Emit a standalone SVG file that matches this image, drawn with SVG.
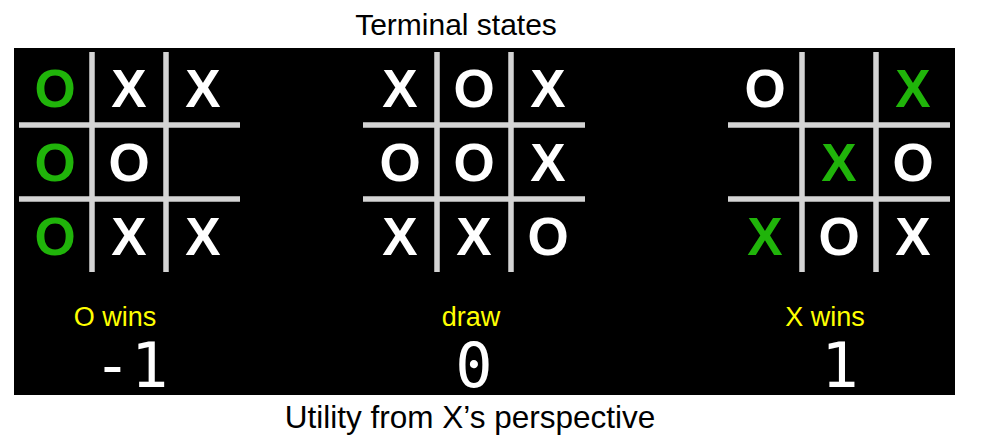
<svg xmlns="http://www.w3.org/2000/svg" width="987" height="442" viewBox="0 0 987 442">
<style>
.cap{font-family:"Liberation Sans",Arial,sans-serif;font-size:30px;fill:#000;text-anchor:middle}
.grid line{stroke:#d4d4d4;stroke-width:5.5}
.m{font-family:"Liberation Sans",Arial,sans-serif;font-weight:bold;font-size:53px;text-anchor:middle;fill:#fff}
.g{fill:#20b40a}
.lbl{font-family:"Liberation Sans",Arial,sans-serif;font-size:27px;fill:#ffff00;text-anchor:middle}
.num{font-family:"DejaVu Sans Mono",monospace;font-size:62px;fill:#fff;text-anchor:middle}
</style>
<rect width="987" height="442" fill="#fff"/>
<text class="cap" x="456" y="35">Terminal states</text>
<rect x="14" y="48" width="941" height="347" fill="#000"/>

<g id="board-o-wins">
  <g class="grid">
    <line x1="92" y1="52" x2="92" y2="272"/>
    <line x1="166" y1="52" x2="166" y2="272"/>
    <line x1="19" y1="125" x2="240" y2="125"/>
    <line x1="19" y1="199" x2="240" y2="199"/>
  </g>
  <text class="m g" x="55" y="107">O</text>
  <text class="m" x="129" y="107">X</text>
  <text class="m" x="203" y="107">X</text>
  <text class="m g" x="55" y="181">O</text>
  <text class="m" x="129" y="181">O</text>
  <text class="m g" x="55" y="255">O</text>
  <text class="m" x="129" y="255">X</text>
  <text class="m" x="203" y="255">X</text>
  <text class="lbl" x="115" y="326">O wins</text>
  <text class="num" x="131" y="387">-1</text>
</g>

<g id="board-draw">
  <g class="grid">
    <line x1="437" y1="52" x2="437" y2="272"/>
    <line x1="511" y1="52" x2="511" y2="272"/>
    <line x1="363" y1="125" x2="585" y2="125"/>
    <line x1="363" y1="199" x2="585" y2="199"/>
  </g>
  <text class="m" x="400" y="107">X</text>
  <text class="m" x="474" y="107">O</text>
  <text class="m" x="548" y="107">X</text>
  <text class="m" x="400" y="181">O</text>
  <text class="m" x="474" y="181">O</text>
  <text class="m" x="548" y="181">X</text>
  <text class="m" x="400" y="255">X</text>
  <text class="m" x="474" y="255">X</text>
  <text class="m" x="548" y="255">O</text>
  <text class="lbl" x="471" y="326">draw</text>
  <text class="num" x="474" y="387">0</text>
</g>

<g id="board-x-wins">
  <g class="grid">
    <line x1="802" y1="52" x2="802" y2="272"/>
    <line x1="876" y1="52" x2="876" y2="272"/>
    <line x1="728" y1="125" x2="950" y2="125"/>
    <line x1="728" y1="199" x2="950" y2="199"/>
  </g>
  <text class="m" x="765" y="107">O</text>
  <text class="m g" x="913" y="107">X</text>
  <text class="m g" x="839" y="181">X</text>
  <text class="m" x="913" y="181">O</text>
  <text class="m g" x="765" y="255">X</text>
  <text class="m" x="839" y="255">O</text>
  <text class="m" x="913" y="255">X</text>
  <text class="lbl" x="825" y="326">X wins</text>
  <text class="num" x="840" y="387">1</text>
</g>

<text class="cap" x="470" y="428" style="font-size:31.5px">Utility from X’s perspective</text>
</svg>
